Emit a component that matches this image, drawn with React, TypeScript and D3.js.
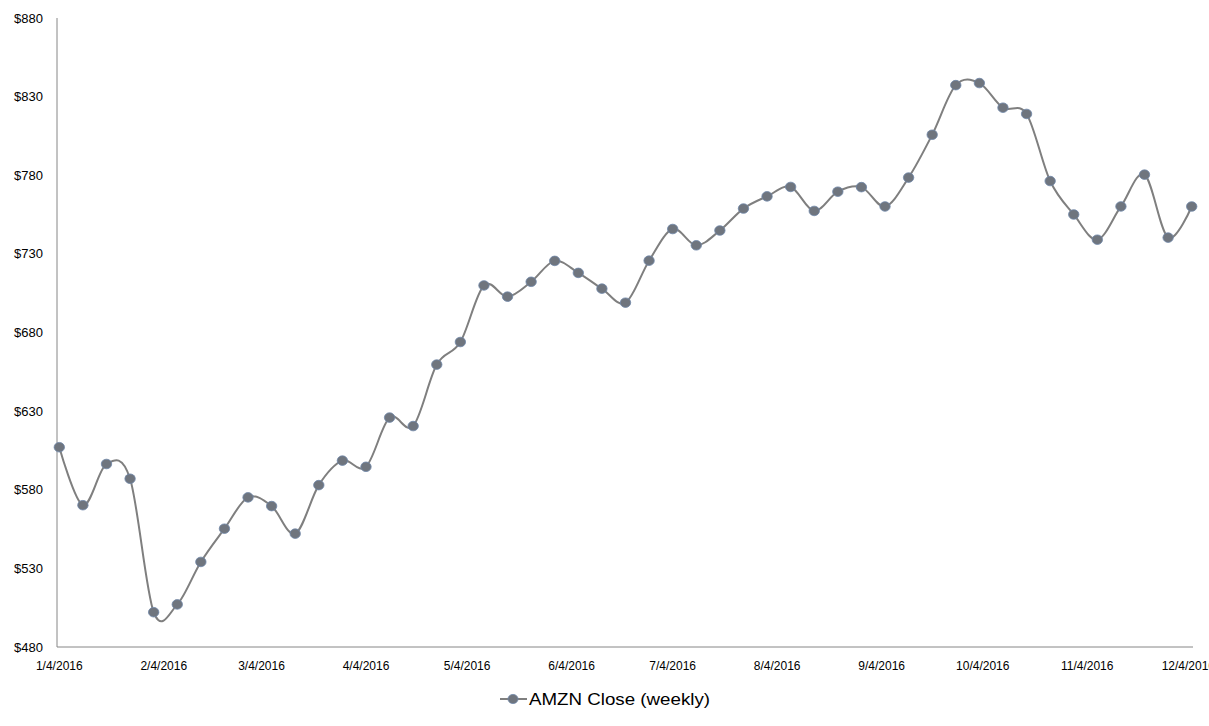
import React from "react";
import * as d3 from "d3";

const weekDates: string[] = [
  "2016-01-04","2016-01-11","2016-01-18","2016-01-25","2016-02-01","2016-02-08","2016-02-15","2016-02-22",
  "2016-02-29","2016-03-07","2016-03-14","2016-03-21","2016-03-28","2016-04-04","2016-04-11","2016-04-18",
  "2016-04-25","2016-05-02","2016-05-09","2016-05-16","2016-05-23","2016-05-30","2016-06-06","2016-06-13",
  "2016-06-20","2016-06-27","2016-07-04","2016-07-11","2016-07-18","2016-07-25","2016-08-01","2016-08-08",
  "2016-08-15","2016-08-22","2016-08-29","2016-09-05","2016-09-12","2016-09-19","2016-09-26","2016-10-03",
  "2016-10-10","2016-10-17","2016-10-24","2016-10-31","2016-11-07","2016-11-14","2016-11-21","2016-11-28",
  "2016-12-05",
];

const closeValues: number[] = [
  607.05, 570.18, 596.38, 587.0, 502.13, 507.08, 534.1, 555.23,
  575.14, 569.61, 552.08, 582.95, 598.5, 594.6, 625.89, 620.5,
  659.59, 673.95, 709.92, 702.8, 712.24, 725.54, 717.91, 707.88,
  698.96, 725.68, 745.81, 735.44, 744.86, 758.81, 766.56, 772.56,
  757.31, 769.54, 772.44, 760.14, 778.52, 805.75, 837.31, 838.63,
  822.96, 818.99, 776.32, 755.05, 739.01, 760.16, 780.37, 740.34,
  760.13,
];

const yTicks: number[] = [480, 530, 580, 630, 680, 730, 780, 830, 880];
const xTickLabels: string[] = [
  "1/4/2016","2/4/2016","3/4/2016","4/4/2016","5/4/2016","6/4/2016",
  "7/4/2016","8/4/2016","9/4/2016","10/4/2016","11/4/2016","12/4/2016",
];
const seriesName = "AMZN Close (weekly)";

const W = 1209;
const H = 726;
const axisColor = "#868686";
const lineColor = "#7f7f7f";
const markerFill = "#6f757e";
const markerStroke = "#6f86a8";
const font = "'Liberation Sans', Arial, sans-serif";

export default function App() {
  const parse = d3.timeParse("%Y-%m-%d");
  const dates = weekDates.map((d) => parse(d) as Date);
  const data = dates.map((d, i) => ({ d, v: closeValues[i] }));

  const x = d3
    .scaleTime()
    .domain([parse("2016-01-04") as Date, parse("2016-12-05") as Date])
    .range([59.3, 1191.7]);
  const y = d3.scaleLinear().domain([480, 880]).range([647, 18]);

  const line = d3
    .line<{ d: Date; v: number }>()
    .x((p) => x(p.d))
    .y((p) => y(p.v))
    .curve(d3.curveCardinal.tension(0));

  const labelDates = xTickLabels.map((s) => d3.timeParse("%m/%d/%Y")(s) as Date);

  return (
    <svg
      width={W}
      height={H}
      style={{ position: "absolute", left: 0, top: 0, background: "#fff" }}
    >
      <rect x={0} y={0} width={W} height={H} fill="#fff" />
      <line x1={57} x2={57} y1={18} y2={647} stroke={axisColor} strokeWidth={1} />
      <line x1={57} x2={1193} y1={647} y2={647} stroke={axisColor} strokeWidth={1} />
      {yTicks.map((t) => (
        <text
          key={t}
          x={43}
          y={y(t)}
          textAnchor="end"
          dominantBaseline="central"
          fontFamily={font}
          fontSize={13}
          fill="#000"
        >
          {"$" + t}
        </text>
      ))}
      {labelDates.map((d, i) => (
        <text
          key={i}
          x={x(d)}
          y={666}
          textAnchor="middle"
          dominantBaseline="central"
          fontFamily={font}
          fontSize={12}
          fill="#000"
        >
          {xTickLabels[i]}
        </text>
      ))}
      <path d={line(data) || ""} fill="none" stroke={lineColor} strokeWidth={2} />
      {data.map((p, i) => (
        <ellipse
          key={i}
          cx={x(p.d)}
          cy={y(p.v)}
          rx={5.2}
          ry={4.8}
          fill={markerFill}
          stroke={markerStroke}
          strokeWidth={0.8}
        />
      ))}
      <g>
        <line x1={500} x2={527} y1={699} y2={699} stroke={lineColor} strokeWidth={2} />
        <ellipse cx={513} cy={699} rx={5} ry={4.6} fill={markerFill} stroke={markerStroke} strokeWidth={0.8} />
        <text
          x={529}
          y={699}
          dominantBaseline="central"
          fontFamily={font}
          fontSize={17}
          textLength={181}
          lengthAdjust="spacingAndGlyphs"
          fill="#000"
        >
          {seriesName}
        </text>
      </g>
    </svg>
  );
}
